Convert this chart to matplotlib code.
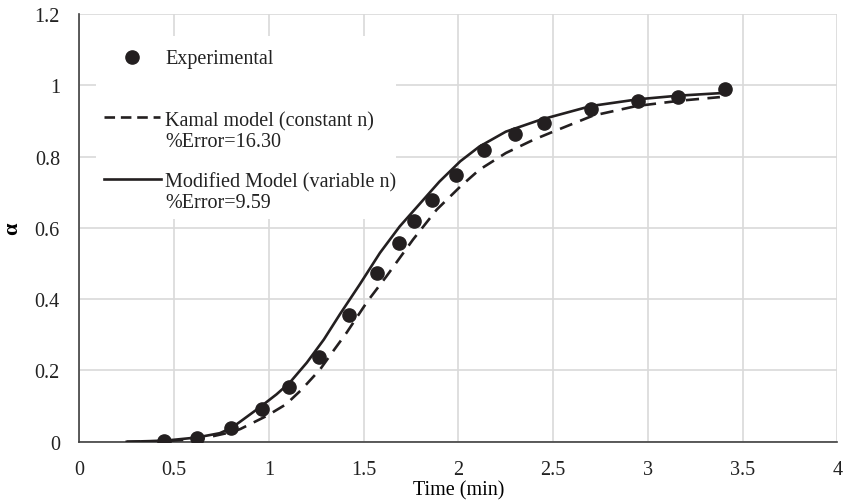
import matplotlib
matplotlib.use("Agg")
import matplotlib.pyplot as plt
from matplotlib.lines import Line2D
from matplotlib.patches import Rectangle

# Experimental points
exp_t = [0.446, 0.618, 0.798, 0.961, 1.107, 1.265, 1.423, 1.570, 1.686, 1.768,
         1.862, 1.988, 2.136, 2.296, 2.452, 2.700, 2.946, 3.160, 3.406]
exp_a = [0.003, 0.010, 0.038, 0.093, 0.154, 0.239, 0.356, 0.474, 0.559, 0.620,
         0.678, 0.749, 0.819, 0.863, 0.894, 0.935, 0.957, 0.968, 0.990]

# Kamal model (constant n)
kamal_t = [0.25, 0.45, 0.64, 0.81, 0.85, 0.99, 1.09, 1.17, 1.27, 1.34, 1.41, 1.48,
           1.52, 1.62, 1.76, 1.885, 2.01, 2.11, 2.25, 2.395, 2.50, 2.71, 2.94, 3.17, 3.38]
kamal_a = [0.000, 0.002, 0.008, 0.028, 0.036, 0.073, 0.105, 0.145, 0.203, 0.255, 0.306, 0.362,
           0.394, 0.464, 0.567, 0.651, 0.716, 0.763, 0.810, 0.847, 0.870, 0.915, 0.942, 0.957, 0.967]

# Modified model (variable n)
mod_t = [0.25, 0.45, 0.62, 0.74, 0.80, 0.85, 0.95, 1.04, 1.11, 1.20, 1.29, 1.375, 1.48,
         1.586, 1.69, 1.80, 1.90, 2.01, 2.11, 2.25, 2.43, 2.70, 2.95, 3.16, 3.41]
mod_a = [0.000, 0.003, 0.012, 0.024, 0.038, 0.057, 0.096, 0.133, 0.166, 0.222, 0.287, 0.358, 0.442,
         0.530, 0.604, 0.670, 0.730, 0.787, 0.828, 0.870, 0.903, 0.942, 0.961, 0.971, 0.979]

x_ticks = [0, 0.5, 1, 1.5, 2, 2.5, 3, 3.5, 4]
x_labels = ["0", "0.5", "1", "1.5", "2", "2.5", "3", "3.5", "4"]
y_ticks = [0, 0.2, 0.4, 0.6, 0.8, 1.0, 1.2]
y_labels = ["0", "0.2", "0.4", "0.6", "0.8", "1", "1.2"]

plt.rcParams["font.family"] = ["Liberation Serif", "DejaVu Serif"]
ink = "#231f20"
W, H = 845, 502
FS = 14.5


def fx(px):
    return px / W


def fy(py):
    return 1 - py / H


fig = plt.figure(figsize=(W / 100, H / 100), dpi=100)
ax = fig.add_axes([0.094, 0.118, 0.897, 0.852])

ax.plot(exp_t, exp_a, linestyle="none", marker="o", markersize=9.5, color=ink, zorder=4)
ax.plot(kamal_t, kamal_a, color=ink, linewidth=1.9, dashes=(5, 3.2), zorder=3)
ax.plot(mod_t, mod_a, color=ink, linewidth=1.9, zorder=3)

ax.set_xlim(0, 4)
ax.set_ylim(0, 1.2)
ax.set_xticks(x_ticks)
ax.set_xticklabels(x_labels)
ax.set_yticks(y_ticks)
ax.set_yticklabels(y_labels)
ax.tick_params(axis="both", length=0, labelsize=FS, colors="#222222")
ax.tick_params(axis="y", pad=14)
ax.tick_params(axis="x", pad=13)

ax.grid(True, color="#d9d9d9", linewidth=1.2)
ax.set_axisbelow(True)
for s in ["top", "right"]:
    ax.spines[s].set_visible(False)
for s in ["left", "bottom"]:
    ax.spines[s].set_color("#404040")
    ax.spines[s].set_linewidth(1.2)

ax.set_xlabel("Time (min)", fontsize=FS, labelpad=1)
ax.set_ylabel("α", fontsize=16, fontweight="bold", labelpad=9)

# legend, laid out by hand like the Excel one (handle on first text line)
fig.add_artist(Rectangle((fx(96), fy(220)), fx(396) - fx(96), fy(37) - fy(220),
                         transform=fig.transFigure, facecolor="white",
                         edgecolor="none", zorder=5))
fig.add_artist(Line2D([fx(132)], [fy(58)], marker="o", markersize=9.5, color=ink,
                      linestyle="none", transform=fig.transFigure, zorder=6))
fig.add_artist(Line2D([fx(104), fx(160)], [fy(118), fy(118)], color=ink, linewidth=1.9,
                      dashes=(4, 2.2), transform=fig.transFigure, zorder=6))
fig.add_artist(Line2D([fx(104), fx(161)], [fy(180), fy(180)], color=ink, linewidth=1.9,
                      transform=fig.transFigure, zorder=6))
legend_texts = [("Experimental", 64), ("Kamal model (constant n)", 126),
                ("%Error=16.30", 147), ("Modified Model (variable n)", 187),
                ("%Error=9.59", 208)]
for txt, base in legend_texts:
    fig.text(fx(165), fy(base), txt, fontsize=FS, va="baseline", ha="left",
             color="#222222", zorder=7)

fig.savefig("out.png", dpi=100)
